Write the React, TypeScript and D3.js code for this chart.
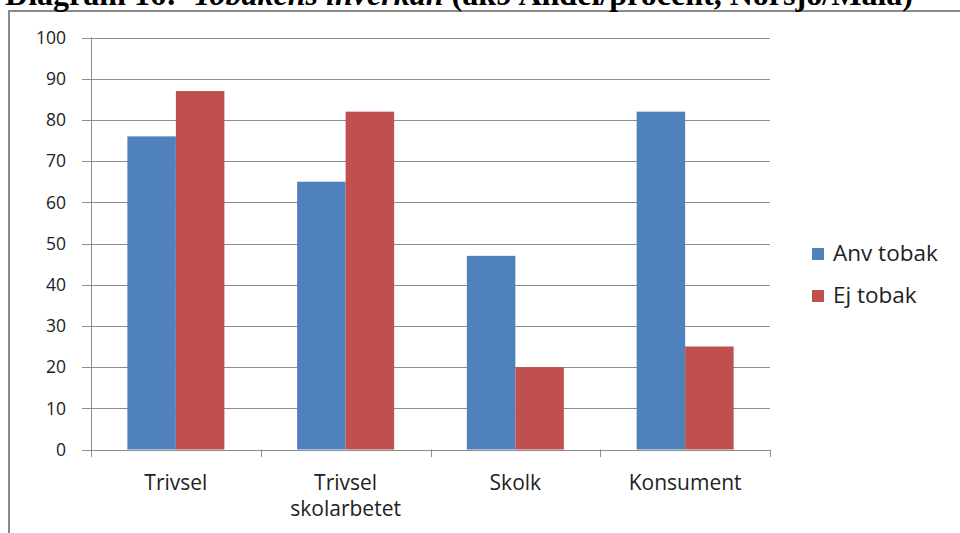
import React from "react";
import * as d3 from "d3";

const categories = ["Trivsel", "Trivsel\nskolarbetet", "Skolk", "Konsument"];
const seriesNames = ["Anv tobak", "Ej tobak"];
const anvTobak = [76, 65, 47, 82];
const ejTobak = [87, 82, 20, 25];
const yTicks = [0, 10, 20, 30, 40, 50, 60, 70, 80, 90, 100];
const colors = ["#4F81BD", "#C0504D"];

const W = 960;
const H = 533;
const plot = { left: 91, right: 770, top: 37.5, bottom: 449.5 };
const font = "'Open Sans', Lato, sans-serif";
const serif = "'Liberation Serif', 'Times New Roman', serif";

export default function App() {
  const x = d3.scaleBand<number>().domain(d3.range(categories.length)).range([plot.left, plot.right]);
  const inner = d3.scaleBand<number>().domain([0, 1]).range([0, x.bandwidth()]).paddingOuter(0.75).paddingInner(0);
  const y = d3.scaleLinear().domain([0, 100]).range([plot.bottom, plot.top]);
  const series = [anvTobak, ejTobak];
  const grid = "#8C8C8C";

  return (
    <svg width={W} height={H} style={{ position: "absolute", left: 0, top: 0, background: "#fff" }}>
      <rect x={0} y={0} width={W} height={H} fill="#fff" />
      {/* frame */}
      <rect x={9} y={11} width={W + 20} height={H + 20} fill="none" stroke="#8A8A8A" strokeWidth={2} />
      {/* title, partially cut at top */}
      <text x={5} y={5} fontFamily={serif} fontWeight="bold" fontSize={32} fill="#000" textLength={908} lengthAdjust="spacingAndGlyphs" style={{ whiteSpace: "pre" }}>
        {"Diagram 16:  "}
        <tspan fontStyle="italic">Tobakens inverkan</tspan>
        {" (åk9 Andel/procent, Norsjö/Malå)"}
      </text>
      {/* gridlines + y ticks */}
      {yTicks.map((t) => (
        <g key={t}>
          <line x1={82} x2={t === 0 ? plot.left : plot.right} y1={Math.round(y(t)) + 0.5} y2={Math.round(y(t)) + 0.5} stroke={grid} strokeWidth={1} />
          <text x={66} y={y(t)} dy="0.36em" textAnchor="end" fontFamily={font} fontSize={17.5} fill="#222">
            {t}
          </text>
        </g>
      ))}
      {/* bars */}
      {categories.map((c, i) =>
        series.map((s, k) => (
          <rect
            key={`${i}-${k}`}
            x={(x(i) ?? 0) + (inner(k) ?? 0)}
            y={y(s[i])}
            width={inner.bandwidth()}
            height={plot.bottom - y(s[i])}
            fill={colors[k]}
          />
        ))
      )}
      {/* axes */}
      <line x1={plot.left + 0.5} x2={plot.left + 0.5} y1={plot.top} y2={457} stroke={grid} />
      <line x1={plot.left} x2={plot.right} y1={Math.round(plot.bottom) + 0.5} y2={Math.round(plot.bottom) + 0.5} stroke={grid} />
      {d3.range(categories.length + 1).map((i) => {
        const xx = Math.round(plot.left + i * x.step()) + 0.5;
        return <line key={i} x1={xx} x2={xx} y1={plot.bottom} y2={457} stroke={grid} />;
      })}
      {/* category labels */}
      {categories.map((c, i) => (
        <text key={c} x={(x(i) ?? 0) + x.bandwidth() / 2} y={490} textAnchor="middle" fontFamily={font} fontSize={21} fill="#222">
          {c.split("\n").map((line, j) => (
            <tspan key={j} x={(x(i) ?? 0) + x.bandwidth() / 2} dy={j === 0 ? 0 : 26}>
              {line}
            </tspan>
          ))}
        </text>
      ))}
      {/* legend */}
      {seriesNames.map((n, k) => (
        <g key={n} transform={`translate(812, ${248 + k * 42})`}>
          <rect x={0} y={0} width={12} height={12} fill={colors[k]} />
          <text x={21} y={13} fontFamily={font} fontSize={22.5} fill="#222">
            {n}
          </text>
        </g>
      ))}
    </svg>
  );
}
